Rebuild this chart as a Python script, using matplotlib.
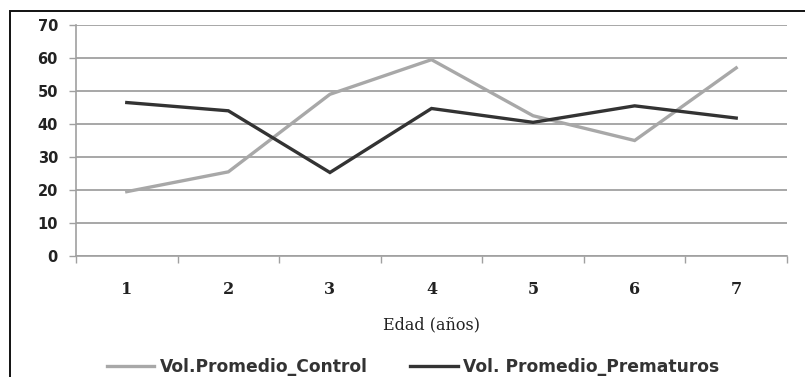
import matplotlib
matplotlib.use("Agg")
import matplotlib.pyplot as plt
from matplotlib.patches import Rectangle
from matplotlib.lines import Line2D

# Mean volume by age, control vs. preterm groups
edades = [1, 2, 3, 4, 5, 6, 7]
vol_control = [19.5, 25.5, 49, 59.5, 42.5, 35, 57]
vol_prematuros = [46.5, 44, 25.3, 44.7, 40.5, 45.5, 41.8]
y_ticks = [0, 10, 20, 30, 40, 50, 60, 70]

COLOR_CONTROL = "#a8a8a8"
COLOR_PREM = "#333333"
GRID = "#a0a0a0"

fig = plt.figure(figsize=(8.05, 3.77), dpi=100)
W, H = 805, 377

# chart frame (runs off the right and bottom edges)
fig.patches.append(Rectangle((10 / W, -0.2), 1.2, 1 - 11 / H + 0.2,
                             transform=fig.transFigure, fill=False,
                             edgecolor="#111111", linewidth=1.4))

ax = fig.add_axes([76 / W, 1 - 256 / H, (787 - 76) / W, (256 - 25) / H])
ax.plot(edades, vol_control, color=COLOR_CONTROL, linewidth=2.4, solid_joinstyle="miter")
ax.plot(edades, vol_prematuros, color=COLOR_PREM, linewidth=2.4, solid_joinstyle="miter")

ax.set_xlim(0.5, 7.5)
ax.set_ylim(0, 70)
ax.set_yticks(y_ticks)
ax.set_yticklabels([str(v) for v in y_ticks], fontsize=10.5, fontweight="bold",
                   family="DejaVu Sans", color="#222222")
ax.tick_params(axis="y", length=5, color=GRID, width=1, pad=8)
ax.grid(axis="y", color=GRID, linewidth=1.3)
ax.set_axisbelow(True)

# categories centred between boundary ticks
ax.set_xticks([e - 0.5 for e in edades] + [7.5])
ax.set_xticklabels([])
ax.set_xticks(edades, minor=True)
ax.set_xticklabels([str(e) for e in edades], minor=True, fontsize=11.5,
                   fontweight="bold", family="DejaVu Serif", color="#222222")
ax.tick_params(axis="x", which="major", length=5, color=GRID, width=1, direction="out")
ax.tick_params(axis="x", which="minor", length=0, pad=18)
ax.set_xlabel("Edad (años)", fontsize=11.5, family="DejaVu Serif",
              color="#222222", labelpad=13)

for side in ("top", "right"):
    ax.spines[side].set_visible(False)
for side in ("left", "bottom"):
    ax.spines[side].set_color(GRID)
    ax.spines[side].set_linewidth(1.2)

handles = [Line2D([], [], color=COLOR_CONTROL, linewidth=2.4),
           Line2D([], [], color=COLOR_PREM, linewidth=2.4)]
fig.legend(handles, ["Vol.Promedio_Control", "Vol. Promedio_Prematuros"],
           loc="center", bbox_to_anchor=(413 / W, 1 - 367 / H), ncol=2, frameon=False,
           prop={"family": "DejaVu Sans", "weight": "bold", "size": 12.3},
           handlelength=2.8, handletextpad=0.3, columnspacing=2.5, labelcolor="#333333",
           borderpad=0)

fig.savefig("out.png", dpi=100)
